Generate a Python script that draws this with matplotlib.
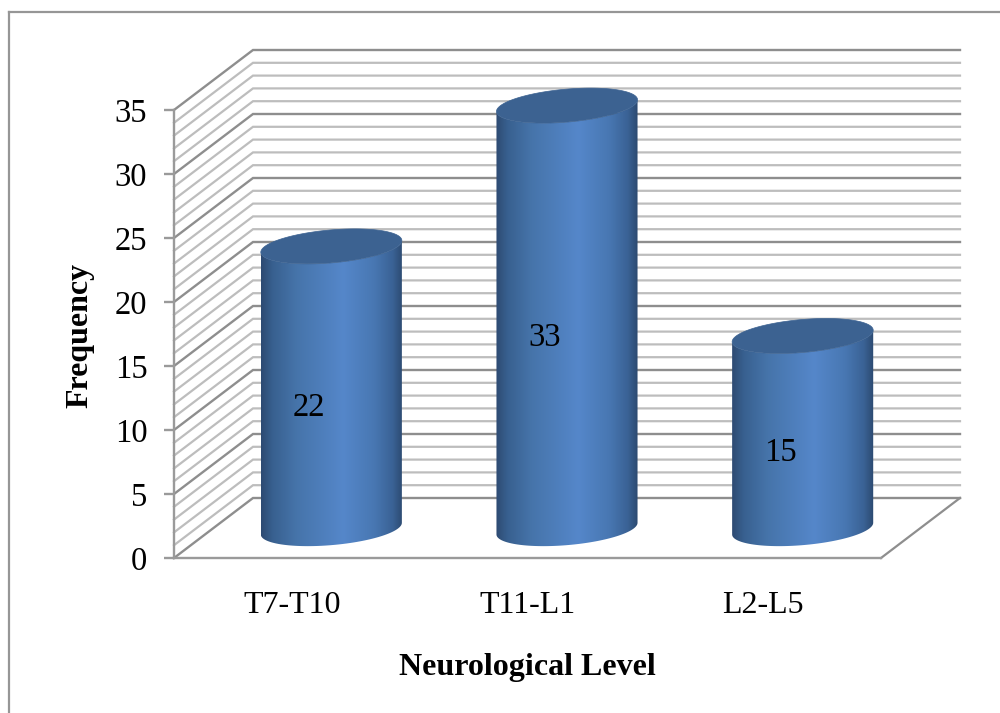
import numpy as np
import matplotlib
matplotlib.use('Agg')
import matplotlib.pyplot as plt
from matplotlib.colors import LinearSegmentedColormap
from matplotlib.lines import Line2D
from matplotlib.patches import PathPatch, Polygon
from matplotlib.path import Path

categories = ['T7-T10', 'T11-L1', 'L2-L5']
values = [22, 33, 15]
y_major = [0, 5, 10, 15, 20, 25, 30, 35]
y_grid = list(range(0, 36))
x_label = 'Neurological Level'
y_label = 'Frequency'

plt.rcParams['font.family'] = ['Liberation Serif', 'DejaVu Serif']

W, H = 1000, 713
fig = plt.figure(figsize=(W / 100, H / 100), dpi=100)
# front plane of the fake 3d box, in pixels
L, R, T, B = 174, 881, 110, 558
ax = fig.add_axes([L / W, 1 - B / H, (R - L) / W, (B - T) / H])
ax.set_facecolor('none')

px_x = 3 / (R - L)   # data units per pixel
px_y = 35 / (B - T)
DX, DY = 79 * px_x, 60 * px_y  # depth of the box

major_c = '#8e8e8e'
minor_c = '#bdbdbd'

# walls
for v in y_grid:
    major = v % 5 == 0
    xs = [0, DX, 3 + DX]
    ys = [v, v + DY, v + DY]
    ax.plot(xs, ys, color=major_c if major else minor_c, lw=1.7 if major else 1.6,
            clip_on=False, zorder=1, solid_joinstyle='miter')
# right edge of the floor
ax.plot([3, 3 + DX], [0, DY], color=major_c, lw=1.6, clip_on=False, zorder=1)
# floor is white, hides nothing but keeps the bars clean
ax.add_patch(Polygon([(0, 0), (3, 0), (3 + DX, DY), (DX, DY)], closed=True,
                     fc='white', ec='none', zorder=0.5, clip_on=False))

side_cmap = LinearSegmentedColormap.from_list('side', [
    (0.00, '#2d4a72'), (0.08, '#38608f'), (0.25, '#4674aa'), (0.58, '#5587ca'),
    (0.80, '#4877b2'), (0.93, '#3a6295'), (1.00, '#2c4a70')])
grad = np.linspace(0, 1, 256).reshape(1, -1)

# ellipse from the floor circle under the shear
ux, vx, vy = 66.5 * px_x, 23.5 * px_x, 17.5 * px_y
t_edge = np.arctan2(vx, ux)
half_w = np.hypot(ux, vx)


def ring(cx, cy, t):
    return cx + ux * np.cos(t) + vx * np.sin(t), cy + vy * np.sin(t)


for i, v in enumerate(values):
    cx = i + 0.5 + DX / 2
    cy0 = DY / 2 - 0.05
    cy1 = v + DY / 2
    # front half of base ellipse, from right tangent round to left tangent
    t_front = np.linspace(t_edge, t_edge - np.pi, 80)
    bx, by = ring(cx, cy0, t_front)
    tx, ty = ring(cx, cy1, t_front[::-1])
    side = np.column_stack([np.r_[bx, tx], np.r_[by, ty]])
    side_path = Path(np.vstack([side, side[0]]), closed=True)
    clip = PathPatch(side_path, fc='none', ec='none', transform=ax.transData, zorder=2)
    ax.add_patch(clip)
    clip.set_clip_on(False)
    im = ax.imshow(grad, cmap=side_cmap, aspect='auto', zorder=2, interpolation='bilinear',
                   extent=[cx - half_w, cx + half_w, -1, 40])
    im.set_clip_box(fig.bbox)
    im.set_clip_path(clip)
    # lid
    t_all = np.linspace(0, 2 * np.pi, 160)
    ex, ey = ring(cx, cy1, t_all)
    ax.add_patch(Polygon(np.column_stack([ex, ey]), closed=True, fc='#3c6291', ec='#3c6291',
                         lw=0.5, zorder=3, clip_on=False))
    ax.text(cx - 22 * px_x, v / 2 + 9 * px_y, str(v), ha='center', va='center',
            fontsize=23.5, color='black', zorder=4)

ax.set_xlim(0, 3)
ax.set_ylim(0, 35)

for s in ['top', 'right']:
    ax.spines[s].set_visible(False)
for s in ['left', 'bottom']:
    ax.spines[s].set_color('#9a9a9a')
    ax.spines[s].set_linewidth(1.7)
    ax.spines[s].set_zorder(1.5)

ax.set_yticks(y_major)
ax.set_yticklabels([str(v) for v in y_major], fontsize=23.5)
ax.tick_params(axis='y', length=7.2, width=1.7, color='#9a9a9a', pad=12, labelcolor='black')
ax.set_xticks([0.5, 1.5, 2.5])
ax.set_xticklabels(categories, fontsize=23)
ax.tick_params(axis='x', length=0, pad=24, labelcolor='black')

ax.set_xlabel(x_label, fontsize=23, fontweight='bold')
ax.xaxis.set_label_coords((527 - L) / (R - L), (B - 667) / (B - T), transform=ax.transAxes)
ax.xaxis.label.set_va('center')
ax.set_ylabel(y_label, fontsize=23, fontweight='bold')
ax.yaxis.set_label_coords((80 - L) / (R - L), (B - 335) / (B - T), transform=ax.transAxes)
ax.yaxis.label.set_va('center')

# outer chart frame, only top and left land inside the picture
fig.add_artist(Line2D([9 / W, 9 / W], [0, 1 - 12 / H], color='#969696', lw=1.6))
fig.add_artist(Line2D([9 / W, 1], [1 - 12 / H, 1 - 12 / H], color='#969696', lw=1.6))

fig.savefig('out.png', dpi=100, facecolor='white')
